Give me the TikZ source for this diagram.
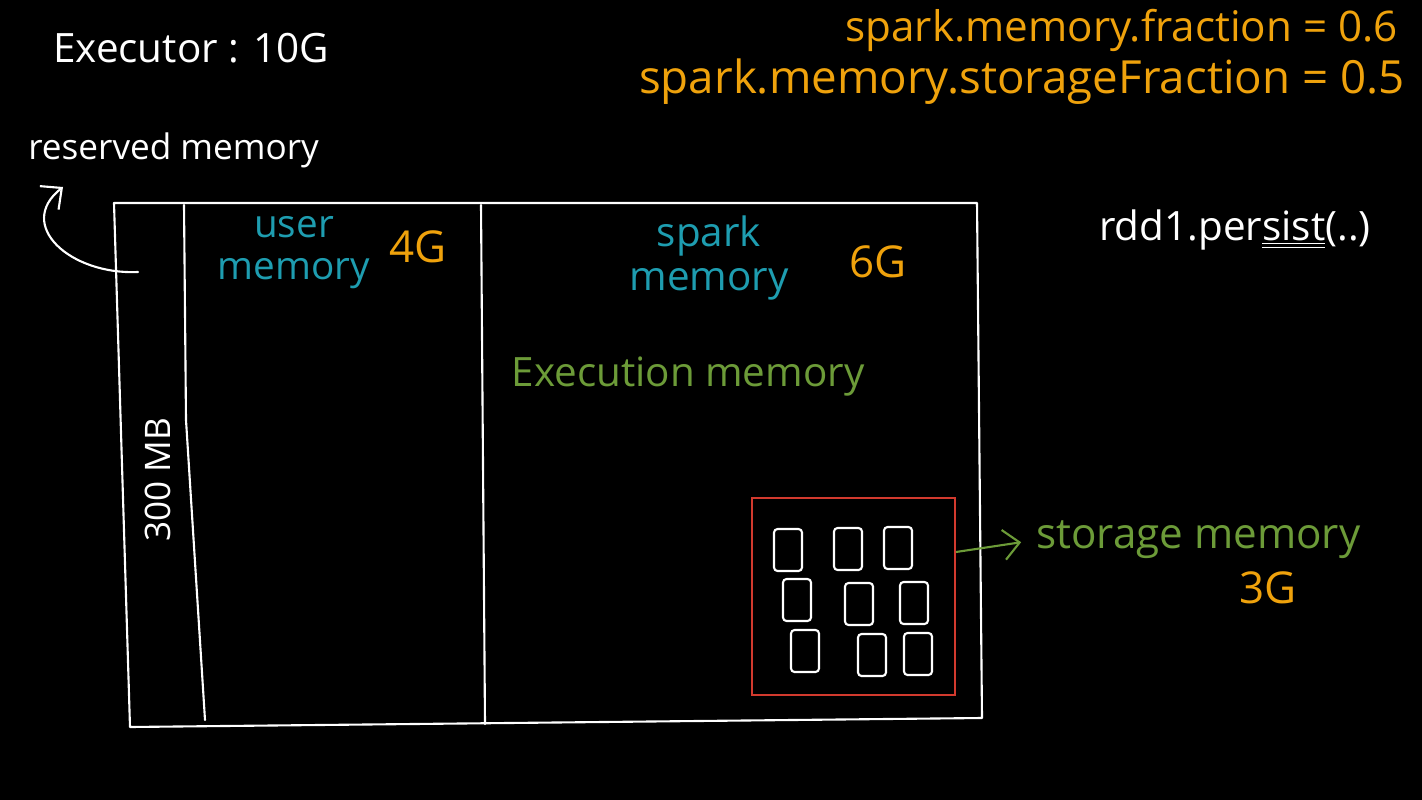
\documentclass[tikz,border=0pt]{standalone}
\usepackage{fontspec}
\setmainfont{Open Sans}
\usetikzlibrary{arrows.meta,positioning}
\definecolor{inkorange}{HTML}{EFA20C}
\definecolor{inkcyan}{HTML}{1E9DB0}
\definecolor{inkgreen}{HTML}{6C9B38}
\definecolor{inkred}{HTML}{D23A2E}

\begin{document}
\begin{tikzpicture}[
  x=0.02cm, y=-0.02cm,
  >={Straight Barb[length=3.2mm, width=6mm]},
  node distance=2mm and 4mm,
  chalk/.style={draw=white, line width=1.2pt, line cap=round, line join=round},
  txt/.style={inner sep=0pt, font=\fontsize{23}{26}\selectfont},
  white txt/.style={txt, text=white},
  orange txt/.style={txt, text=inkorange},
  cyan txt/.style={txt, text=inkcyan, align=center},
  green txt/.style={txt, text=inkgreen},
  blockbox/.style={chalk, rounded corners=2pt, minimum width=5.6mm, minimum height=8.4mm, inner sep=0pt}
]
  \fill[black] (0,0) rectangle (1422,800);
  \useasboundingbox (0,0) rectangle (1422,800);

  % headings
  \node[white txt] (executor) at (191,48) {Executor : 10G};
  \node[orange txt, anchor=east, font=\fontsize{24}{27}\selectfont] (fraction) at (1398,30) {spark.memory.fraction = 0.6};
  \node[orange txt, anchor=east, font=\fontsize{26}{29}\selectfont] (storfrac) at (1405,82) {spark.memory.storageFraction = 0.5};
  \node[white txt, anchor=west, font=\fontsize{20}{23}\selectfont] (reserved) at (28,150) {reserved memory};

  % executor heap
  \draw[chalk] (114,203) -- (977,203) -- (982,718) -- (130,727) -- cycle;
  \draw[chalk] (184,205) -- (186,420) -- (205,720);
  \draw[chalk] (481,205) -- (485,724);
  \node[white txt, rotate=90, font=\fontsize{20}{23}\selectfont] (rsvsize) at (158,480) {300 MB};
  \coordinate (rsvpt) at (138,272);
  \draw[chalk, ->] (rsvpt) .. controls (70,275) and (15,225) .. (63,187);

  % user memory
  \node[cyan txt, font=\fontsize{22}{24}\selectfont] (usermem) at (294,253) {user\\memory};
  \node[orange txt, font=\fontsize{25}{28}\selectfont] (usersize) at (418,247) {4G};

  % spark memory
  \node[cyan txt, font=\fontsize{23}{25}\selectfont] (sparkmem) at (709,258) {spark\\memory};
  \node[orange txt, font=\fontsize{25}{28}\selectfont] (sparksize) at (878,262) {6G};
  \node[green txt] (execmem) at (688,377) {Execution memory};

  % storage memory with cached blocks
  \draw[draw=inkred, line width=1.2pt] (752,498) rectangle (955,695);
  \coordinate (storeout) at (956,552);
  \foreach \i/\bx/\by in {1/788/550, 2/848/549, 3/898/548,
                          4/797/600, 5/859/604, 6/914/603,
                          7/805/651, 8/872/655, 9/918/654}
    \node[blockbox] (blk\i) at (\bx,\by) {};
  \node[green txt, anchor=west, font=\fontsize{24}{27}\selectfont] (storelbl) at (1036,540) {storage memory};
  \node[orange txt, font=\fontsize{25}{28}\selectfont] (storesize) at (1268,588) {3G};
  \draw[draw=inkgreen, line width=1.2pt, ->, shorten >=3mm] (storeout) -- (storelbl.west);

  \node[white txt] (persist) at (1235,230) {rdd1.per\underline{\underline{sist}}(..)};
\end{tikzpicture}
\end{document}
